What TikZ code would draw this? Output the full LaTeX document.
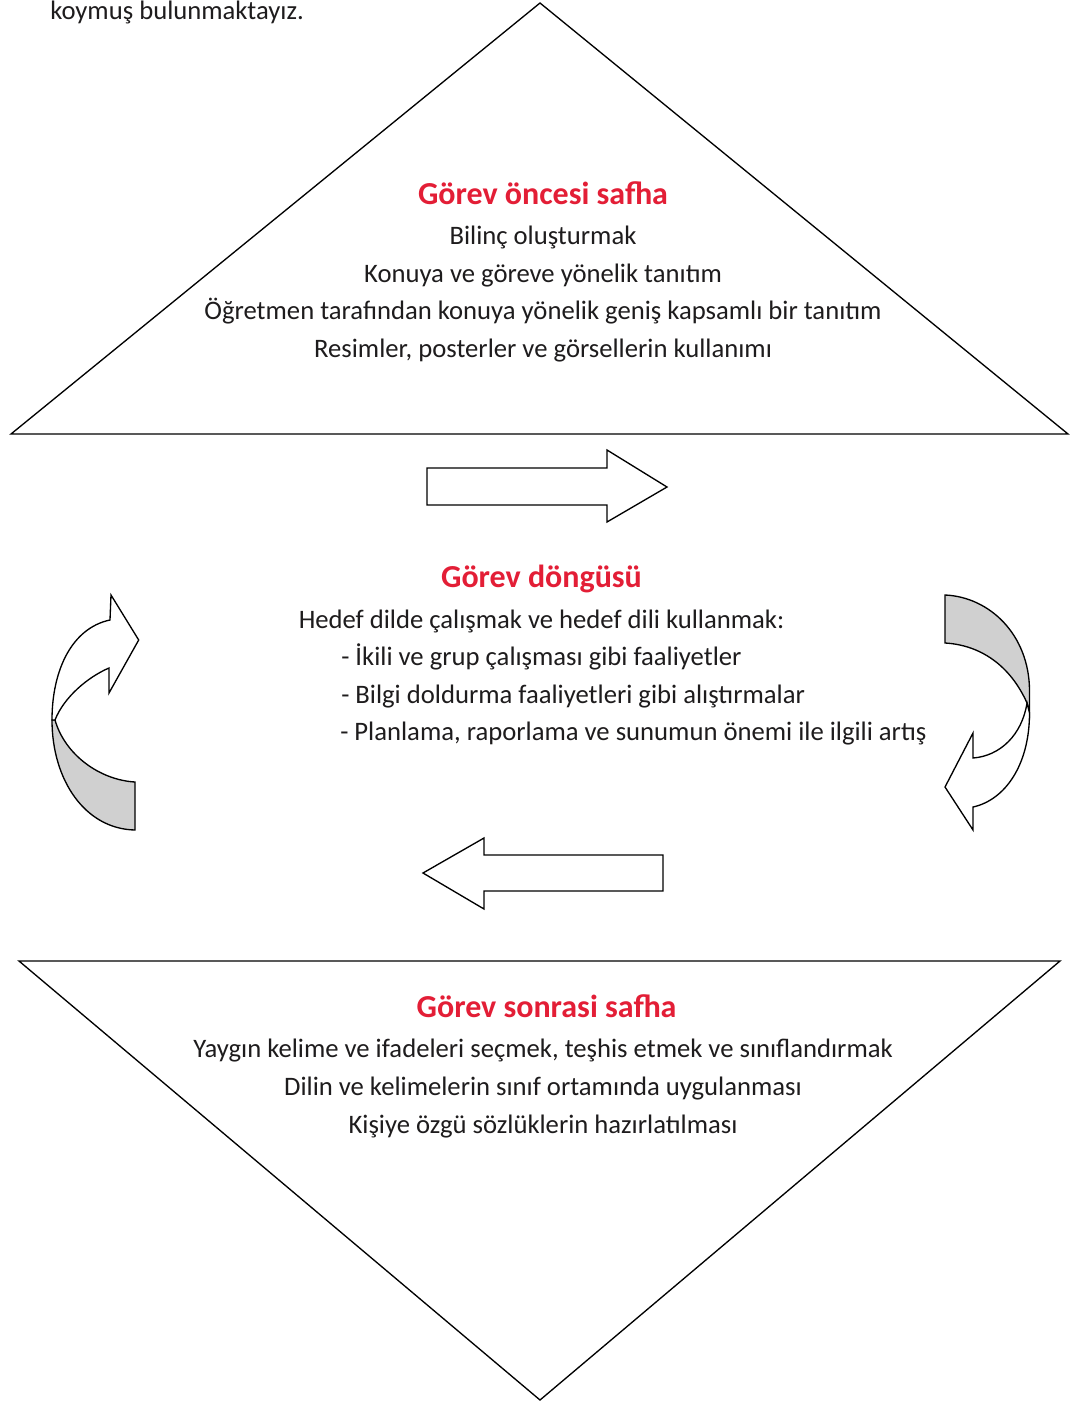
\documentclass[tikz,border=0pt]{standalone}
\usepackage{fontspec}
\setmainfont{Carlito}
\definecolor{titlered}{RGB}{227,30,54}
\definecolor{bodytxt}{RGB}{30,28,29}
\definecolor{bandgray}{RGB}{208,208,208}
\tikzset{
  outline/.style={draw=black, line width=1pt, line join=miter},
  body/.style={font=\fontsize{20}{24}\selectfont, text=bodytxt, inner sep=0pt, anchor=base},
  bodyleft/.style={body, anchor=base west},
  title/.style={font=\fontsize{24}{28}\selectfont\bfseries, text=titlered, inner sep=0pt, anchor=base},
}
\begin{document}
\begin{tikzpicture}[x=0.75pt, y=-0.75pt]
\useasboundingbox (0,0) rectangle (1078,1401);
\fill[white] (0,0) rectangle (1078,1401);

% top partial sentence
\node[bodyleft] (prev) at (50,20) {koymuş bulunmaktayız.};

% triangles
\draw[outline] (540,3) -- (1068,434) -- (11,434) -- cycle;
\draw[outline] (19,961) -- (1060,961) -- (540,1400) -- cycle;

% top block
\node[title] (t1) at (543,205) {Görev öncesi safha};
\node[body] (a1) at (543,245) {Bilinç oluşturmak};
\node[body] (a2) at (543,282) {Konuya ve göreve yönelik tanıtım};
\node[body] (a3) at (543,320) {Öğretmen tarafından konuya yönelik geniş kapsamlı bir tanıtım};
\node[body] (a4) at (543,357) {Resimler, posterler ve görsellerin kullanımı};

% middle block
\node[title] (t2) at (541.5,587) {Görev döngüsü};
\node[body] (b1) at (541.5,628) {Hedef dilde çalışmak ve hedef dili kullanmak:};
\node[bodyleft] (b2) at (341,665) {- İkili ve grup çalışması gibi faaliyetler};
\node[bodyleft] (b3) at (341,703) {- Bilgi doldurma faaliyetleri gibi alıştırmalar};
\node[bodyleft] (b4) at (340,740) {- Planlama, raporlama ve sunumun önemi ile ilgili artış};

% bottom block
\node[title] (t3) at (546.5,1017) {Görev sonrasi safha};
\node[body] (c1) at (543,1057) {Yaygın kelime ve ifadeleri seçmek, teşhis etmek ve sınıflandırmak};
\node[body] (c2) at (543,1095) {Dilin ve kelimelerin sınıf ortamında uygulanması};
\node[body] (c3) at (543,1133) {Kişiye özgü sözlüklerin hazırlatılması};

% straight arrows
\draw[outline, fill=white] (427,468) -- (607,468) -- (607,450) -- (667,487) -- (607,522) -- (607,505) -- (427,505) -- cycle;
\draw[outline, fill=white] (663,855) -- (484,855) -- (484,838) -- (423,873) -- (484,909) -- (484,891) -- (663,891) -- cycle;

% left curved arrow
\draw[outline, fill=bandgray] (52,720) .. controls (52,780) and (85,829) .. (135,830)
  -- (135,782) .. controls (100,780) and (65,755) .. (55,720) -- cycle;
\draw[outline, fill=white] (52,720) .. controls (52,670) and (72,628) .. (110,620)
  -- (111,595) -- (138.7,640) -- (109,693) -- (109,668)
  .. controls (88,677) and (64,697) .. (55,720) -- cycle;

% right curved arrow
\draw[outline, fill=bandgray] (945,595) .. controls (990,597) and (1029,635) .. (1029.5,690)
  -- (1029.5,713) -- (1027,703) .. controls (1010,665) and (980,645) .. (945,643) -- cycle;
\draw[outline, fill=white] (1027,703) .. controls (1022,735) and (1000,756) .. (973,758)
  -- (973,733) -- (945,787) -- (973,830) -- (973,807)
  .. controls (1005,800) and (1029.5,765) .. (1029.5,713) -- cycle;
\end{tikzpicture}
\end{document}
